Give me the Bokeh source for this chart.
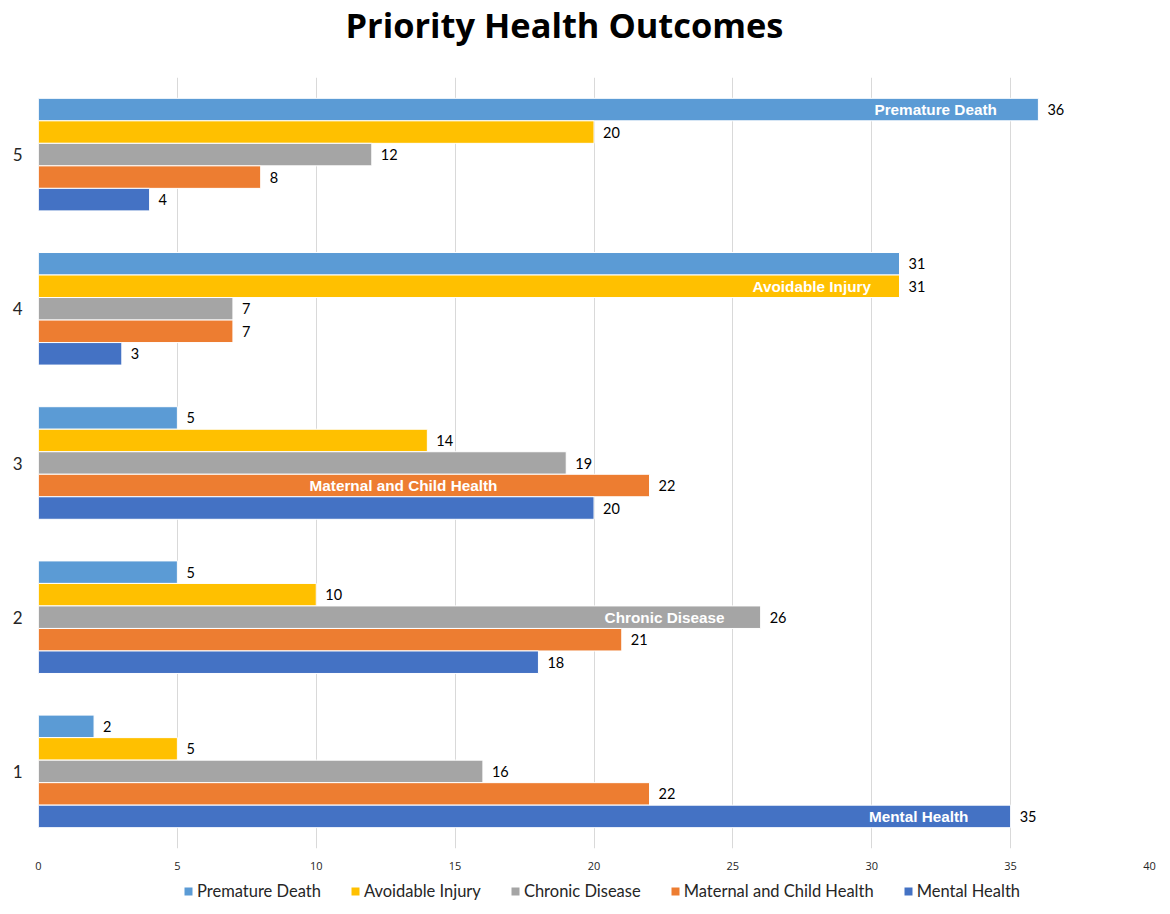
from bokeh.plotting import figure
from bokeh.layouts import column
from bokeh.models import ColumnDataSource, Range1d, Legend, LegendItem, FixedTicker
from bokeh.core.properties import value
from bokeh.embed import file_html
from bokeh.resources import INLINE

title_text = "Priority Health Outcomes"
categories = [1, 2, 3, 4, 5]
series_names = ["Premature Death", "Avoidable Injury", "Chronic Disease",
                "Maternal and Child Health", "Mental Health"]
premature_death = [2, 5, 5, 31, 36]
avoidable_injury = [5, 10, 14, 31, 20]
chronic_disease = [16, 26, 19, 7, 12]
maternal_child_health = [22, 21, 22, 7, 8]
mental_health = [35, 18, 20, 3, 4]
colors = ["#5B9BD5", "#FFC000", "#A5A5A5", "#ED7D31", "#4472C4"]
x_ticks = [0, 5, 10, 15, 20, 25, 30, 35, 40]

# category at which each series' name is written inside its bar, and where along x
name_label_category = [5, 4, 2, 3, 1]
name_label_x = [32.3, 27.84, 22.54, 13.14, 31.69]

series_values = [premature_death, avoidable_injury, chronic_disease,
                 maternal_child_health, mental_health]
offsets = [0.292, 0.146, 0.0, -0.146, -0.292]
bar_h = 0.146

FW, BL, BR = 1111, 38, 21

# ---- title strip (x range in page pixels) ----
pt = figure(frame_width=FW, frame_height=77, output_backend="svg", toolbar_location=None,
            x_range=Range1d(BL, BL + FW), y_range=Range1d(0, 77),
            min_border_left=BL, min_border_right=BR, min_border_top=0, min_border_bottom=0)
pt.axis.visible = False
pt.grid.visible = False
pt.outline_line_color = None
pt.text(x=[345], y=[53], text=[title_text], text_align="left", text_baseline="alphabetic",
        text_font=value("Open Sans"), text_font_style="bold", text_font_size="34.4px",
        text_color="#000000")

# ---- main chart ----
p = figure(frame_width=FW, frame_height=771, output_backend="svg",
           toolbar_location=None, x_range=Range1d(0, 40), y_range=Range1d(0.5, 5.5),
           min_border_left=BL, min_border_right=BR, min_border_top=0, min_border_bottom=30)
p.outline_line_color = None
p.background_fill_color = "white"

for name, vals, col, off, lc, lx in zip(series_names, series_values, colors, offsets,
                                        name_label_category, name_label_x):
    ys = [c + off for c in categories]
    src = ColumnDataSource(dict(y=ys, right=vals, txt=[str(v) for v in vals]))
    p.hbar(y="y", right="right", left=0, height=bar_h, source=src,
           fill_color=col, line_color="white", line_width=1)
    p.text(x="right", y="y", text="txt", source=src, x_offset=9,
           text_align="left", text_baseline="middle", text_font=value("Lato"),
           text_font_size="14.5px", text_color="#000000")
    p.text(x=[lx], y=[lc + off], text=[name], text_align="center",
           text_baseline="middle", text_font=value("Liberation Sans"),
           text_font_style="bold", text_font_size="15.3px", text_color="white")

p.xaxis.ticker = FixedTicker(ticks=x_ticks)
p.xaxis.axis_line_color = None
p.xaxis.major_tick_line_color = None
p.xaxis.minor_tick_line_color = None
p.xaxis.major_tick_out = 0
p.xaxis.major_tick_in = 0
p.xaxis.major_label_standoff = 13
p.xaxis.major_label_text_font = "Open Sans"
p.xaxis.major_label_text_font_size = "11px"
p.xaxis.major_label_text_color = "#262626"

p.yaxis.ticker = FixedTicker(ticks=categories)
p.yaxis.axis_line_color = None
p.yaxis.major_tick_line_color = None
p.yaxis.minor_tick_line_color = None
p.yaxis.major_tick_out = 0
p.yaxis.major_tick_in = 0
p.yaxis.major_label_standoff = 16
p.yaxis.major_label_text_font = "Lato"
p.yaxis.major_label_text_font_size = "17px"
p.yaxis.major_label_text_color = "#262626"

p.ygrid.grid_line_color = None
p.xgrid.grid_line_color = "#D9D9D9"
p.xgrid.grid_line_width = 1

# ---- legend strip ----
pl = figure(frame_width=FW, frame_height=36, output_backend="svg", toolbar_location=None,
            x_range=Range1d(0, 1), y_range=Range1d(0, 1),
            min_border_left=BL, min_border_right=BR, min_border_top=0, min_border_bottom=0)
pl.axis.visible = False
pl.grid.visible = False
pl.outline_line_color = None
items = []
for name, col in zip(series_names, colors):
    # legend proxy, kept outside the strip's visible range
    r = pl.hbar(y=[-10], right=[1], left=0, height=0.1, fill_color=col, line_color=None)
    items.append(LegendItem(label=name, renderers=[r]))
legend = Legend(items=items, orientation="horizontal", location=(145, 13),
                label_text_font="Lato", label_text_font_size="16.5px",
                label_text_color="#262626", glyph_width=10, glyph_height=10,
                spacing=29, label_standoff=4, border_line_color=None,
                background_fill_alpha=0, padding=0, margin=0)
pl.add_layout(legend)

layout = column(pt, p, pl, spacing=0)
open("out.html", "w").write(file_html(layout, INLINE))
